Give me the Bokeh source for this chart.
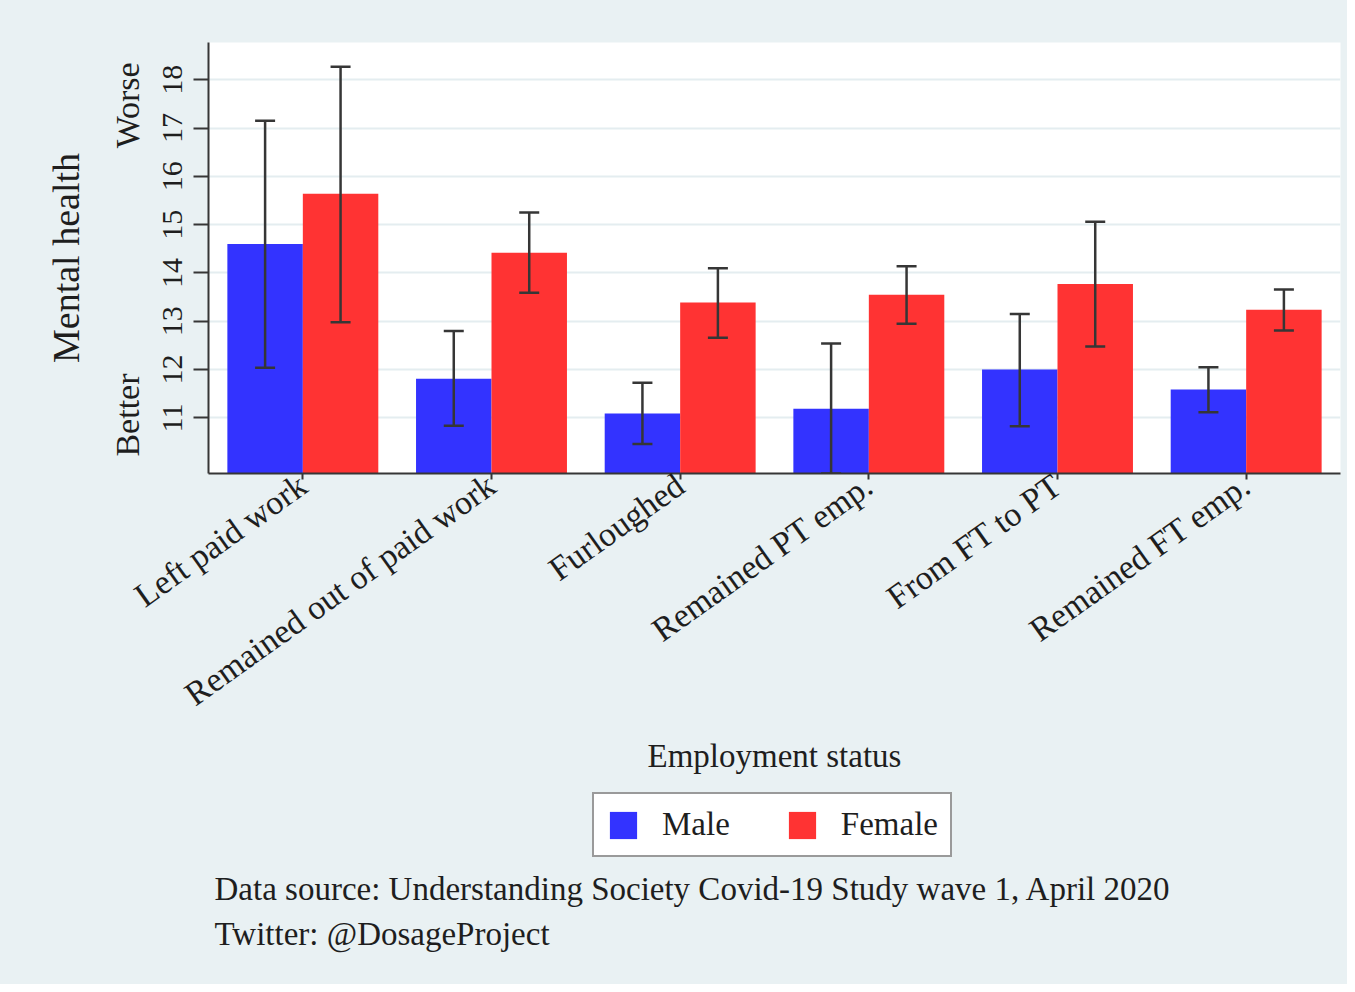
import math
from bokeh.plotting import figure
from bokeh.layouts import column
from bokeh.models import (FactorRange, Range1d, ColumnDataSource, Whisker, LinearAxis,
                          FixedTicker, CustomJSTickFormatter, Legend, LegendItem, Label, TeeHead)
from bokeh.transform import dodge
from bokeh.embed import file_html
from bokeh.resources import INLINE

# ---- data ----
categories = ["Left paid work", "Remained out of paid work", "Furloughed",
              "Remained PT emp.", "From FT to PT", "Remained FT emp."]
male_mean = [14.60, 11.81, 11.09, 11.19, 12.00, 11.59]
male_lo = [12.04, 10.84, 10.46, 9.85, 10.83, 11.12]
male_hi = [17.15, 12.80, 11.73, 12.54, 13.15, 12.05]
female_mean = [15.64, 14.42, 13.39, 13.55, 13.77, 13.24]
female_lo = [12.98, 13.59, 12.66, 12.95, 12.48, 12.81]
female_hi = [18.27, 15.25, 14.10, 14.14, 15.06, 13.66]
y_ticks = [11, 12, 13, 14, 15, 16, 17, 18]
direction_ticks = [11.06, 17.47]
direction_labels = ["Better", "Worse"]
series_names = ["Male", "Female"]
note_lines = ["Data source: Understanding Society Covid-19 Study wave 1, April 2020",
              "Twitter: @DosageProject"]

# ---- style ----
FONT = "Liberation Serif"
BG = "#e9f1f3"
BLUE = "#3333ff"
RED = "#ff3333"
INK = "#1e1e1e"
AX = "#363636"
W = 1347
H1 = 790
H2 = 194

src = ColumnDataSource(dict(cat=categories, male=male_mean, male_lo=male_lo, male_hi=male_hi,
                            female=female_mean, female_lo=female_lo, female_hi=female_hi))

p = figure(x_range=FactorRange(*categories), y_range=Range1d(9.85, 18.77),
           width=W, height=H1, min_border_left=208, min_border_right=7,
           min_border_top=42, min_border_bottom=H1 - 473,
           output_backend="svg", toolbar_location=None,
           background_fill_color="white", border_fill_color=BG)
p.outline_line_color = None

r_m = p.vbar(x=dodge("cat", -0.2, range=p.x_range), top="male", bottom=0, width=0.4,
             source=src, fill_color=BLUE, line_color=None)
r_f = p.vbar(x=dodge("cat", 0.2, range=p.x_range), top="female", bottom=0, width=0.4,
             source=src, fill_color=RED, line_color=None)

for off, lo, hi in [(-0.2, "male_lo", "male_hi"), (0.2, "female_lo", "female_hi")]:
    w = Whisker(base=dodge("cat", off, range=p.x_range), lower=lo, upper=hi, source=src,
                line_color=AX, line_width=2.5, level="overlay",
                upper_head=TeeHead(size=20, line_color=AX, line_width=2.5),
                lower_head=TeeHead(size=20, line_color=AX, line_width=2.5))
    p.add_layout(w)

# grid
p.xgrid.grid_line_color = None
p.ygrid.grid_line_color = "#e4edf0"
p.ygrid.grid_line_width = 2
p.ygrid.ticker = FixedTicker(ticks=y_ticks)

# y axis
ya = p.yaxis[0]
ya.ticker = FixedTicker(ticks=y_ticks)
ya.axis_line_color = AX
ya.axis_line_width = 2
ya.major_tick_line_color = AX
ya.major_tick_line_width = 2
ya.major_tick_out = 15
ya.major_tick_in = 0
ya.minor_tick_line_color = None
ya.major_label_orientation = "vertical"
ya.major_label_standoff = 11
ya.major_label_text_font = FONT
ya.major_label_text_font_size = "30px"
ya.major_label_text_color = INK

# second left axis with Better / Worse and the title
ya2 = LinearAxis(ticker=FixedTicker(ticks=direction_ticks),
                 formatter=CustomJSTickFormatter(
                     args=dict(t=direction_ticks, l=direction_labels),
                     code="const i = t.indexOf(tick); return i >= 0 ? l[i] : '';"))
ya2.axis_line_color = None
ya2.major_tick_line_color = None
ya2.minor_tick_line_color = None
ya2.major_tick_out = 0
ya2.major_label_orientation = "vertical"
ya2.major_label_standoff = 14
ya2.major_label_text_font = FONT
ya2.major_label_text_font_size = "34px"
ya2.major_label_text_color = INK
ya2.axis_label = "Mental health"
ya2.axis_label_text_font = FONT
ya2.axis_label_text_font_size = "38px"
ya2.axis_label_text_font_style = "normal"
ya2.axis_label_text_color = INK
ya2.axis_label_standoff = 20
p.add_layout(ya2, "left")

# x axis
xa = p.xaxis[0]
xa.axis_line_color = AX
xa.axis_line_width = 2
xa.major_tick_line_color = AX
xa.major_tick_line_width = 2
xa.major_tick_out = 6
xa.major_tick_in = 0
xa.major_label_orientation = math.radians(35.5)
xa.major_label_standoff = 2
xa.major_label_text_font = FONT
xa.major_label_text_font_size = "34px"
xa.major_label_text_color = INK
xa.axis_label = "Employment status"
xa.axis_label_text_font = FONT
xa.axis_label_text_font_size = "33px"
xa.axis_label_text_font_style = "normal"
xa.axis_label_text_color = INK
xa.axis_label_standoff = 7

# ---- bottom strip: legend and notes (frame aligned with the plot above) ----
q = figure(width=W, height=H2, x_range=Range1d(0, 1), y_range=Range1d(0, 1),
           x_axis_type=None, y_axis_type=None, min_border=0,
           output_backend="svg", toolbar_location=None,
           background_fill_color=None, border_fill_color=None)
q.outline_line_color = None
q.grid.visible = False
# zero-height legend proxies with the same styling as the bars
k_m = q.vbar(x=[0.5], top=[0], bottom=[0], width=0.01, fill_color=BLUE, line_color=None)
k_f = q.vbar(x=[0.5], top=[0], bottom=[0], width=0.01, fill_color=RED, line_color=None)

legend = Legend(items=[LegendItem(label=series_names[0], renderers=[k_m]),
                       LegendItem(label=series_names[1], renderers=[k_f])],
                orientation="horizontal", location=(384, 127),
                label_text_font=FONT, label_text_font_size="33px", label_text_color=INK,
                glyph_width=34, glyph_height=34, label_standoff=22, spacing=55,
                padding=12, margin=0,
                border_line_color=AX, border_line_width=2,
                background_fill_color="white", background_fill_alpha=1.0)
q.add_layout(legend, "center")

for i, line in enumerate(note_lines):
    q.add_layout(Label(x=6, y=96 - 45 * i, x_units="screen", y_units="screen",
                       text=line, text_font=FONT, text_font_size="33px",
                       text_color=INK, text_baseline="alphabetic", text_align="left"))

layout = column(p, q, spacing=0, styles={"background-color": BG})
open("out.html", "w").write(file_html(layout, INLINE))
